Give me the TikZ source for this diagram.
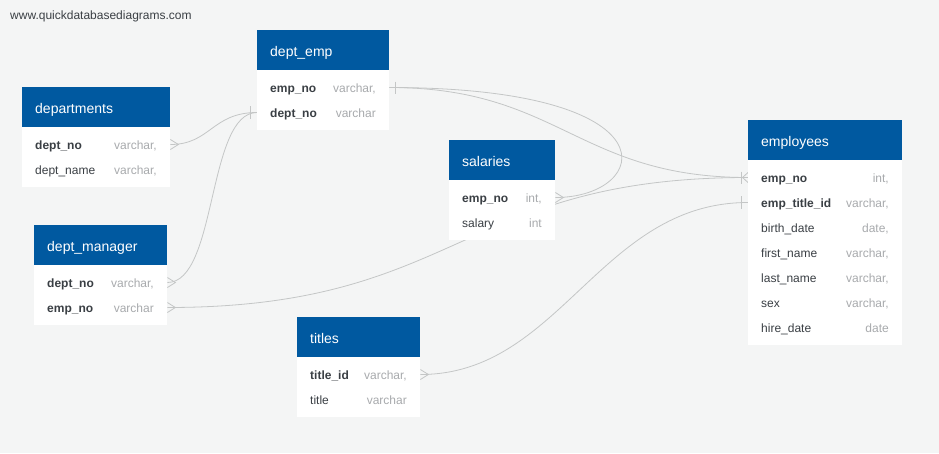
\documentclass[tikz,border=0pt]{standalone}
\usepackage{fontspec}
\setmainfont{Liberation Sans}
\usepackage{xcolor}
\usetikzlibrary{backgrounds}

\definecolor{qdbblue}{HTML}{0059A0}
\definecolor{qdbbg}{HTML}{F4F5F5}
\definecolor{qdbline}{HTML}{C4C6C6}
\definecolor{qdbname}{HTML}{3A3F44}
\definecolor{qdbtype}{HTML}{A8AAAD}

\begin{document}
\begin{tikzpicture}[x=1pt, y=-1pt,
    head/.style={anchor=north west, fill=qdbblue, minimum height=40pt, inner sep=0pt},
    title/.style={anchor=base west, inner sep=0pt, text=white, font=\fontsize{14}{16}\selectfont},
    body/.style={anchor=north west, fill=white, inner sep=0pt},
    fld/.style={anchor=base west, inner sep=0pt, text height=9pt, text depth=0pt,
        text=qdbname, font=\fontsize{12}{14}\selectfont},
    ftype/.style={anchor=base east, inner sep=0pt, text=qdbtype, font=\fontsize{12}{14}\selectfont},
    link/.style={draw=qdbline, line width=0.8pt},
    crowr/.pic={\draw[link] (0,-5) -- (8,0) -- (0,5);},
    crowl/.pic={\draw[link] (0,-5) -- (-5.5,0) -- (0,5); \draw[link] (-6.5,-6) -- (-6.5,6);},
    barl/.pic={\draw[link] (-6.5,-6.5) -- (-6.5,6.5);},
    barr/.pic={\draw[link] (6,-6) -- (6,6);}
]
    \useasboundingbox (0,0) rectangle (939,453);

    % site name
    \node[fld] (site) at (10,19.5) {www.quickdatabasediagrams.com};

    % departments
    \node[head, minimum width=148pt] (departments) at (22,87) {};
    \node[title] (departments-title) at (35,113.5) {departments};
    \node[body, minimum width=148pt, minimum height=60pt] (departments-body) at (22,127) {};
    \foreach \nm/\ty [count=\i] in {{\bfseries dept\_no}/{varchar,}, {dept\_name}/{varchar,}} {
        \node[fld] (departments-\i) at (35,{124+25*\i}) {\nm};
        \node[ftype] (departments-\i-type) at (157,{124+25*\i}) {\ty};
    }

    % dept_emp
    \node[head, minimum width=132pt] (dept_emp) at (257,30) {};
    \node[title] (dept_emp-title) at (270,56.5) {dept\_emp};
    \node[body, minimum width=132pt, minimum height=60pt] (dept_emp-body) at (257,70) {};
    \foreach \nm/\ty [count=\i] in {{\bfseries emp\_no}/{varchar,}, {\bfseries dept\_no}/{varchar}} {
        \node[fld] (dept_emp-\i) at (270,{67+25*\i}) {\nm};
        \node[ftype] (dept_emp-\i-type) at (376,{67+25*\i}) {\ty};
    }

    % salaries
    \node[head, minimum width=106pt] (salaries) at (449,140) {};
    \node[title] (salaries-title) at (462,166.5) {salaries};
    \node[body, minimum width=106pt, minimum height=60pt] (salaries-body) at (449,180) {};
    \foreach \nm/\ty [count=\i] in {{\bfseries emp\_no}/{int,}, {salary}/{int}} {
        \node[fld] (salaries-\i) at (462,{177+25*\i}) {\nm};
        \node[ftype] (salaries-\i-type) at (542,{177+25*\i}) {\ty};
    }

    % employees
    \node[head, minimum width=154pt] (employees) at (748,120) {};
    \node[title] (employees-title) at (761,146.5) {employees};
    \node[body, minimum width=154pt, minimum height=185pt] (employees-body) at (748,160) {};
    \foreach \nm/\ty [count=\i] in {{\bfseries emp\_no}/{int,}, {\bfseries emp\_title\_id}/{varchar,},
            {birth\_date}/{date,}, {first\_name}/{varchar,}, {last\_name}/{varchar,},
            {sex}/{varchar,}, {hire\_date}/{date}} {
        \node[fld] (employees-\i) at (761,{157+25*\i}) {\nm};
        \node[ftype] (employees-\i-type) at (889,{157+25*\i}) {\ty};
    }

    % dept_manager
    \node[head, minimum width=133pt] (dept_manager) at (34,225) {};
    \node[title] (dept_manager-title) at (47,251.5) {dept\_manager};
    \node[body, minimum width=133pt, minimum height=60pt] (dept_manager-body) at (34,265) {};
    \foreach \nm/\ty [count=\i] in {{\bfseries dept\_no}/{varchar,}, {\bfseries emp\_no}/{varchar}} {
        \node[fld] (dept_manager-\i) at (47,{262+25*\i}) {\nm};
        \node[ftype] (dept_manager-\i-type) at (154,{262+25*\i}) {\ty};
    }

    % titles
    \node[head, minimum width=123pt] (titles) at (297,317) {};
    \node[title] (titles-title) at (310,343.5) {titles};
    \node[body, minimum width=123pt, minimum height=60pt] (titles-body) at (297,357) {};
    \foreach \nm/\ty [count=\i] in {{\bfseries title\_id}/{varchar,}, {title}/{varchar}} {
        \node[fld] (titles-\i) at (310,{354+25*\i}) {\nm};
        \node[ftype] (titles-\i-type) at (407,{354+25*\i}) {\ty};
    }

    % relations, under the tables
    \begin{pgfonlayer}{background}
        \fill[qdbbg] (0,0) rectangle (939,453);

        \draw[link] (departments-body.east |- departments-1) .. controls +(40,0) and +(-45,0) .. (dept_emp-body.west |- dept_emp-2);
        \draw[link] (dept_manager-body.east |- dept_manager-1) .. controls +(50,0) and +(-50,0) .. (dept_emp-body.west |- dept_emp-2);
        \draw[link] (dept_manager-body.east |- dept_manager-2) .. controls +(293,0) and +(-288,0) .. (employees-body.west |- employees-1);
        \draw[link] (dept_emp-body.east |- dept_emp-1) .. controls +(170,0) and +(-170,0) .. (employees-body.west |- employees-1);
        \draw[link] (dept_emp-body.east |- dept_emp-1) .. controls +(291,0) and +(95,0) .. (salaries-body.east |- salaries-1);
        \draw[link] (titles-body.east |- titles-1) .. controls +(140,0) and +(-148,0) .. (employees-body.west |- employees-2);

        % ends
        \pic at (departments-body.east |- departments-1) {crowr};
        \pic at (dept_manager-body.east |- dept_manager-1) {crowr};
        \pic at (dept_manager-body.east |- dept_manager-2) {crowr};
        \pic at (titles-body.east |- titles-1) {crowr};
        \pic at (salaries-body.east |- salaries-1) {crowr};
        \pic at (employees-body.west |- employees-1) {crowl};
        \pic at (employees-body.west |- employees-2) {barl};
        \pic at (dept_emp-body.west |- dept_emp-2) {barl};
        \pic at (dept_emp-body.east |- dept_emp-1) {barr};
    \end{pgfonlayer}
\end{tikzpicture}
\end{document}
